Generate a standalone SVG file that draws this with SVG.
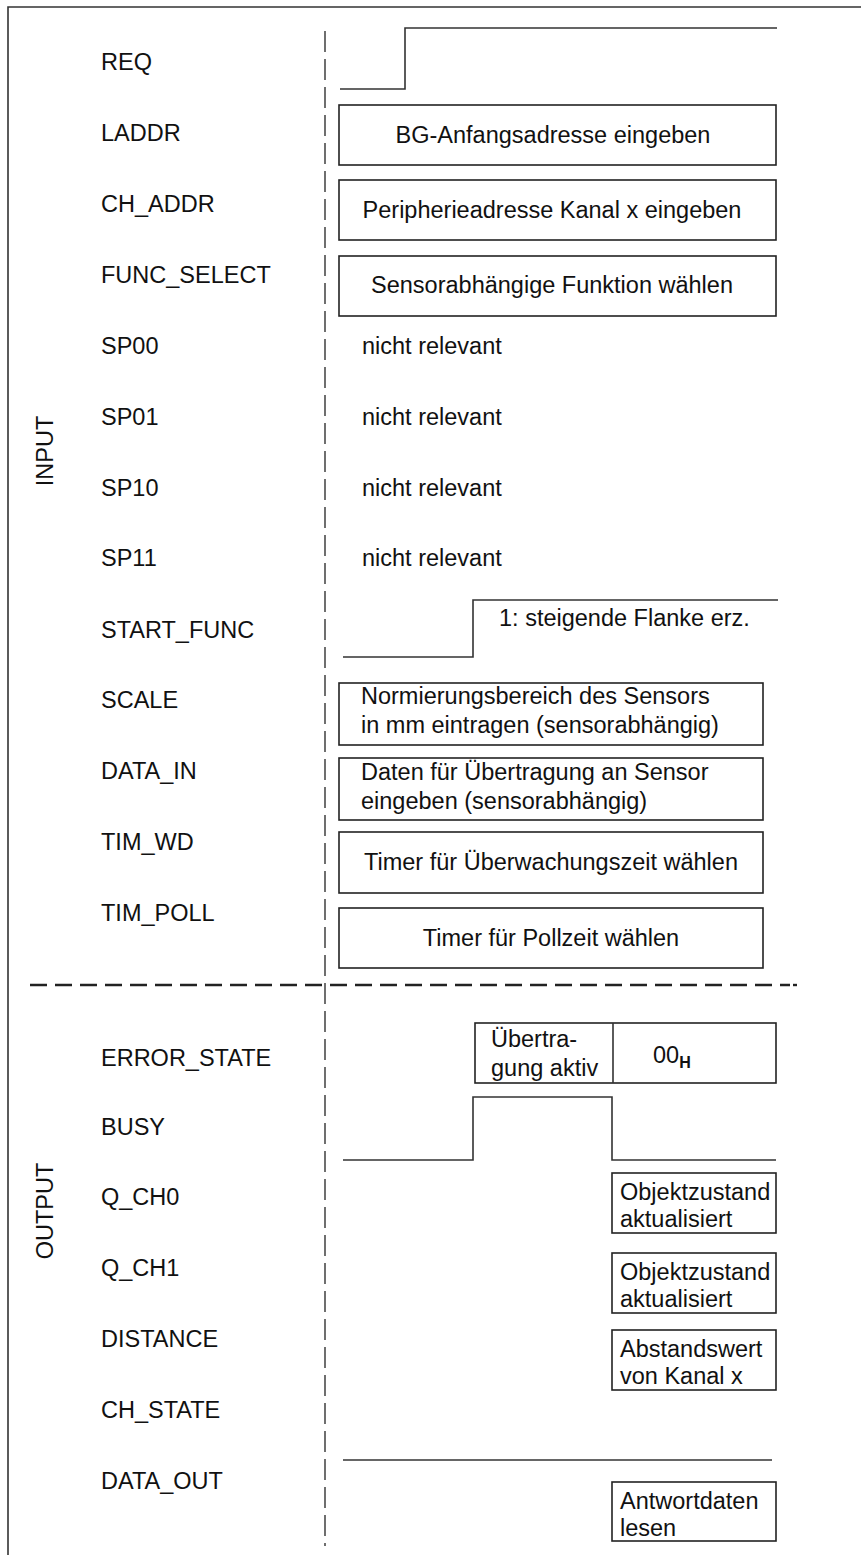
<svg xmlns="http://www.w3.org/2000/svg" width="861" height="1555" viewBox="0 0 861 1555">
  <style>
    text { font-family: "Liberation Sans", Arial, sans-serif; font-size: 23.5px; fill: #111; }
    .mid { text-anchor: middle; }
    .box { fill: #fff; stroke: #222; stroke-width: 1.6; }
    .sig { fill: none; stroke: #333; stroke-width: 1.6; }
    .frame { fill: none; stroke: #333; stroke-width: 1.6; }
    .vdash { stroke: #222; stroke-width: 1.3; stroke-dasharray: 21 7; }
    .hdash { stroke: #222; stroke-width: 2.4; stroke-dasharray: 17 8; }
    .sub { font-size: 16px; font-weight: bold; }
  </style>

  <!-- frame -->
  <path class="frame" d="M8 1555 V7 H861"/>

  <!-- time axis separator and input/output separator -->
  <g id="connectors">
    <line class="vdash" x1="325" y1="31" x2="325" y2="1546"/>
    <line class="hdash" x1="30" y1="985" x2="790" y2="985"/>
    <line x1="793" y1="985" x2="797" y2="985" stroke="#222" stroke-width="2.4"/>
  </g>

  <!-- section titles -->
  <text id="title-input" transform="translate(53 451) rotate(-90)" class="mid">INPUT</text>
  <text id="title-output" transform="translate(53 1211) rotate(-90)" class="mid">OUTPUT</text>

  <!-- signal names -->
  <g id="labels">
    <text x="101" y="70">REQ</text>
    <text x="101" y="141">LADDR</text>
    <text x="101" y="212">CH_ADDR</text>
    <text x="101" y="283">FUNC_SELECT</text>
    <text x="101" y="354">SP00</text>
    <text x="101" y="425">SP01</text>
    <text x="101" y="496">SP10</text>
    <text x="101" y="566">SP11</text>
    <text x="101" y="638">START_FUNC</text>
    <text x="101" y="708">SCALE</text>
    <text x="101" y="779">DATA_IN</text>
    <text x="101" y="850">TIM_WD</text>
    <text x="101" y="921">TIM_POLL</text>
    <text x="101" y="1066">ERROR_STATE</text>
    <text x="101" y="1135">BUSY</text>
    <text x="101" y="1205">Q_CH0</text>
    <text x="101" y="1276">Q_CH1</text>
    <text x="101" y="1347">DISTANCE</text>
    <text x="101" y="1418">CH_STATE</text>
    <text x="101" y="1489">DATA_OUT</text>
  </g>

  <!-- input signals -->
  <g id="req">
    <path class="sig" d="M340 89 H405 V28 H777"/>
  </g>
  <g id="laddr">
    <rect class="box" x="339" y="105" width="437" height="60"/>
    <text class="mid" x="553" y="143">BG-Anfangsadresse eingeben</text>
  </g>
  <g id="ch-addr">
    <rect class="box" x="339" y="180" width="437" height="60"/>
    <text class="mid" x="552" y="218">Peripherieadresse Kanal x eingeben</text>
  </g>
  <g id="func-select">
    <rect class="box" x="339" y="256" width="437" height="60"/>
    <text class="mid" x="552" y="293">Sensorabhängige Funktion wählen</text>
  </g>
  <g id="sp00"><text x="362" y="354">nicht relevant</text></g>
  <g id="sp01"><text x="362" y="425">nicht relevant</text></g>
  <g id="sp10"><text x="362" y="496">nicht relevant</text></g>
  <g id="sp11"><text x="362" y="566">nicht relevant</text></g>
  <g id="start-func">
    <path class="sig" d="M343 657 H473 V600 H778"/>
    <text x="499" y="626">1: steigende Flanke erz.</text>
  </g>
  <g id="scale">
    <rect class="box" x="339" y="683" width="424" height="62"/>
    <text x="361" y="704">Normierungsbereich des Sensors</text>
    <text x="361" y="733">in mm eintragen (sensorabhängig)</text>
  </g>
  <g id="data-in">
    <rect class="box" x="339" y="758" width="424" height="62"/>
    <text x="361" y="780">Daten für Übertragung an Sensor</text>
    <text x="361" y="809">eingeben (sensorabhängig)</text>
  </g>
  <g id="tim-wd">
    <rect class="box" x="339" y="832" width="424" height="61"/>
    <text class="mid" x="551" y="870">Timer für Überwachungszeit wählen</text>
  </g>
  <g id="tim-poll">
    <rect class="box" x="339" y="908" width="424" height="60"/>
    <text class="mid" x="551" y="946">Timer für Pollzeit wählen</text>
  </g>

  <!-- output signals -->
  <g id="error-state">
    <rect class="box" x="475" y="1023" width="301" height="60"/>
    <line class="sig" x1="613" y1="1023" x2="613" y2="1083"/>
    <text x="491" y="1047">Übertra-</text>
    <text x="491" y="1076">gung aktiv</text>
    <text x="653" y="1063">00<tspan class="sub" dy="5">H</tspan></text>
  </g>
  <g id="busy">
    <path class="sig" d="M343 1160 H473 V1097 H612 V1160 H776"/>
  </g>
  <g id="q-ch0">
    <rect class="box" x="612" y="1173" width="164" height="60"/>
    <text x="620" y="1200">Objektzustand</text>
    <text x="620" y="1227">aktualisiert</text>
  </g>
  <g id="q-ch1">
    <rect class="box" x="612" y="1253" width="164" height="60"/>
    <text x="620" y="1280">Objektzustand</text>
    <text x="620" y="1307">aktualisiert</text>
  </g>
  <g id="distance">
    <rect class="box" x="612" y="1330" width="164" height="60"/>
    <text x="620" y="1357">Abstandswert</text>
    <text x="620" y="1384">von Kanal x</text>
  </g>
  <g id="ch-state">
    <line class="sig" x1="343" y1="1460" x2="772" y2="1460"/>
  </g>
  <g id="data-out">
    <rect class="box" x="612" y="1482" width="164" height="59"/>
    <text x="620" y="1509">Antwortdaten</text>
    <text x="620" y="1536">lesen</text>
  </g>
</svg>
